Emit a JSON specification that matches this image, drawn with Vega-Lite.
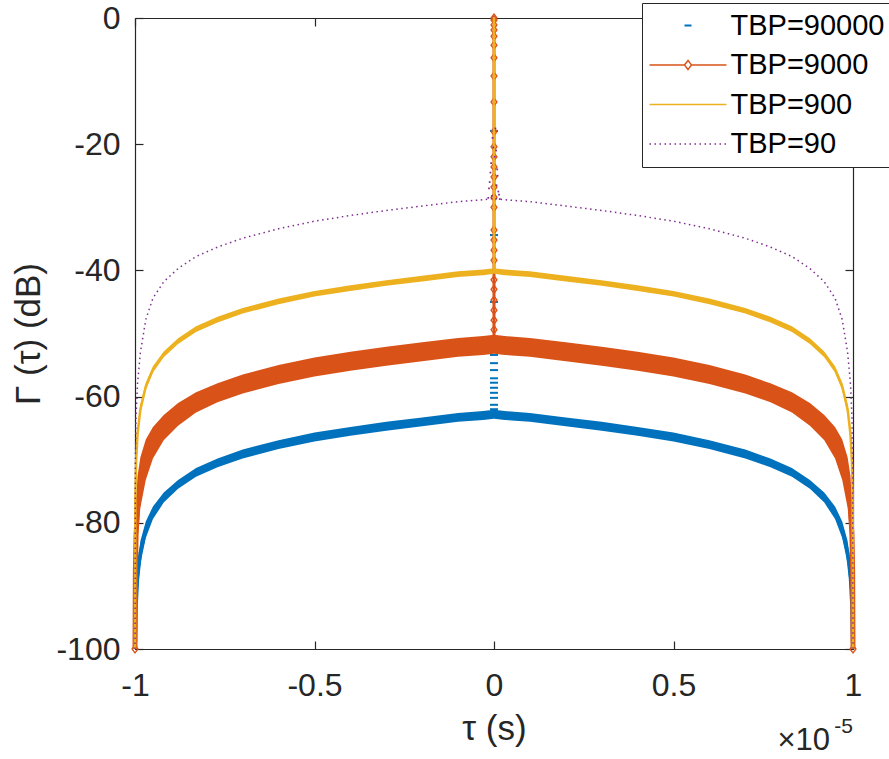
{
  "$schema": "https://vega.github.io/schema/vega-lite/v6.json",
  "width": 718,
  "height": 631,
  "autosize": {"type": "none"},
  "padding": {"left": 135, "top": 18, "right": 36, "bottom": 110},
  "background": "white",
  "config": {
    "view": {"stroke": null},
    "font": "Liberation Sans",
    "axis": {
      "domainColor": "#262626", "tickColor": "#262626", "labelColor": "#262626", "titleColor": "#262626",
      "domainWidth": 1.2, "tickWidth": 1.2, "grid": false,
      "labelFont": "Liberation Sans", "titleFont": "Liberation Sans", "titleFontWeight": "normal",
      "labelFontSize": 32, "titleFontSize": 35, "tickSize": -8, "labelFlush": false, "labelOverlap": false
    }
  },
  "datasets": {
    "curves": [
      {"series": "TBP=90000", "tau": -1, "db": -100, "lo": -100, "hi": -100},
      {"series": "TBP=90000", "tau": -0.999, "db": -98.8, "lo": -100, "hi": -97.6},
      {"series": "TBP=90000", "tau": -0.997, "db": -93.1, "lo": -96.1, "hi": -90.1},
      {"series": "TBP=90000", "tau": -0.993, "db": -88.7, "lo": -91.2, "hi": -86.2},
      {"series": "TBP=90000", "tau": -0.985, "db": -84.7, "lo": -86.5, "hi": -82.9},
      {"series": "TBP=90000", "tau": -0.97, "db": -81.1, "lo": -82.4, "hi": -79.8},
      {"series": "TBP=90000", "tau": -0.95, "db": -78.4, "lo": -79.4, "hi": -77.4},
      {"series": "TBP=90000", "tau": -0.92, "db": -76.0, "lo": -76.8, "hi": -75.2},
      {"series": "TBP=90000", "tau": -0.88, "db": -73.9, "lo": -74.6, "hi": -73.2},
      {"series": "TBP=90000", "tau": -0.83, "db": -72.0, "lo": -72.7, "hi": -71.3},
      {"series": "TBP=90000", "tau": -0.77, "db": -70.5, "lo": -71.2, "hi": -69.8},
      {"series": "TBP=90000", "tau": -0.7, "db": -69.1, "lo": -69.8, "hi": -68.4},
      {"series": "TBP=90000", "tau": -0.6, "db": -67.6, "lo": -68.3, "hi": -66.9},
      {"series": "TBP=90000", "tau": -0.5, "db": -66.4, "lo": -67.1, "hi": -65.7},
      {"series": "TBP=90000", "tau": -0.4, "db": -65.5, "lo": -66.2, "hi": -64.8},
      {"series": "TBP=90000", "tau": -0.3, "db": -64.7, "lo": -65.4, "hi": -64.0},
      {"series": "TBP=90000", "tau": -0.2, "db": -64.0, "lo": -64.7, "hi": -63.3},
      {"series": "TBP=90000", "tau": -0.1, "db": -63.3, "lo": -64.0, "hi": -62.6},
      {"series": "TBP=90000", "tau": -0.03, "db": -63.0, "lo": -63.7, "hi": -62.3},
      {"series": "TBP=90000", "tau": 0, "db": -62.8, "lo": -63.5, "hi": -62.1},
      {"series": "TBP=90000", "tau": 0.03, "db": -63.0, "lo": -63.7, "hi": -62.3},
      {"series": "TBP=90000", "tau": 0.1, "db": -63.3, "lo": -64.0, "hi": -62.6},
      {"series": "TBP=90000", "tau": 0.2, "db": -64.0, "lo": -64.7, "hi": -63.3},
      {"series": "TBP=90000", "tau": 0.3, "db": -64.7, "lo": -65.4, "hi": -64.0},
      {"series": "TBP=90000", "tau": 0.4, "db": -65.5, "lo": -66.2, "hi": -64.8},
      {"series": "TBP=90000", "tau": 0.5, "db": -66.4, "lo": -67.1, "hi": -65.7},
      {"series": "TBP=90000", "tau": 0.6, "db": -67.6, "lo": -68.3, "hi": -66.9},
      {"series": "TBP=90000", "tau": 0.7, "db": -69.1, "lo": -69.8, "hi": -68.4},
      {"series": "TBP=90000", "tau": 0.77, "db": -70.5, "lo": -71.2, "hi": -69.8},
      {"series": "TBP=90000", "tau": 0.83, "db": -72.0, "lo": -72.7, "hi": -71.3},
      {"series": "TBP=90000", "tau": 0.88, "db": -73.9, "lo": -74.6, "hi": -73.2},
      {"series": "TBP=90000", "tau": 0.92, "db": -76.0, "lo": -76.8, "hi": -75.2},
      {"series": "TBP=90000", "tau": 0.95, "db": -78.4, "lo": -79.4, "hi": -77.4},
      {"series": "TBP=90000", "tau": 0.97, "db": -81.1, "lo": -82.4, "hi": -79.8},
      {"series": "TBP=90000", "tau": 0.985, "db": -84.7, "lo": -86.5, "hi": -82.9},
      {"series": "TBP=90000", "tau": 0.993, "db": -88.7, "lo": -91.2, "hi": -86.2},
      {"series": "TBP=90000", "tau": 0.997, "db": -93.1, "lo": -96.1, "hi": -90.1},
      {"series": "TBP=90000", "tau": 0.999, "db": -98.8, "lo": -100, "hi": -97.6},
      {"series": "TBP=90000", "tau": 1, "db": -100, "lo": -100, "hi": -100},

      {"series": "TBP=9000", "tau": -1, "db": -100, "lo": -100, "hi": -100},
      {"series": "TBP=9000", "tau": -0.999, "db": -87.7, "lo": -92.7, "hi": -82.7},
      {"series": "TBP=9000", "tau": -0.997, "db": -82.0, "lo": -87.0, "hi": -77.0},
      {"series": "TBP=9000", "tau": -0.993, "db": -77.6, "lo": -82.6, "hi": -72.6},
      {"series": "TBP=9000", "tau": -0.985, "db": -73.6, "lo": -77.6, "hi": -69.6},
      {"series": "TBP=9000", "tau": -0.97, "db": -70.0, "lo": -73.2, "hi": -66.8},
      {"series": "TBP=9000", "tau": -0.95, "db": -67.3, "lo": -69.8, "hi": -64.8},
      {"series": "TBP=9000", "tau": -0.92, "db": -64.9, "lo": -66.9, "hi": -62.9},
      {"series": "TBP=9000", "tau": -0.88, "db": -62.8, "lo": -64.6, "hi": -61.0},
      {"series": "TBP=9000", "tau": -0.83, "db": -60.9, "lo": -62.5, "hi": -59.3},
      {"series": "TBP=9000", "tau": -0.77, "db": -59.4, "lo": -60.9, "hi": -57.9},
      {"series": "TBP=9000", "tau": -0.7, "db": -58.0, "lo": -59.5, "hi": -56.5},
      {"series": "TBP=9000", "tau": -0.6, "db": -56.5, "lo": -58.0, "hi": -55.0},
      {"series": "TBP=9000", "tau": -0.5, "db": -55.3, "lo": -56.8, "hi": -53.8},
      {"series": "TBP=9000", "tau": -0.4, "db": -54.4, "lo": -55.9, "hi": -52.9},
      {"series": "TBP=9000", "tau": -0.3, "db": -53.6, "lo": -55.1, "hi": -52.1},
      {"series": "TBP=9000", "tau": -0.2, "db": -52.9, "lo": -54.4, "hi": -51.4},
      {"series": "TBP=9000", "tau": -0.1, "db": -52.2, "lo": -53.7, "hi": -50.7},
      {"series": "TBP=9000", "tau": -0.03, "db": -51.9, "lo": -53.4, "hi": -50.4},
      {"series": "TBP=9000", "tau": 0, "db": -51.7, "lo": -53.2, "hi": -50.2},
      {"series": "TBP=9000", "tau": 0.03, "db": -51.9, "lo": -53.4, "hi": -50.4},
      {"series": "TBP=9000", "tau": 0.1, "db": -52.2, "lo": -53.7, "hi": -50.7},
      {"series": "TBP=9000", "tau": 0.2, "db": -52.9, "lo": -54.4, "hi": -51.4},
      {"series": "TBP=9000", "tau": 0.3, "db": -53.6, "lo": -55.1, "hi": -52.1},
      {"series": "TBP=9000", "tau": 0.4, "db": -54.4, "lo": -55.9, "hi": -52.9},
      {"series": "TBP=9000", "tau": 0.5, "db": -55.3, "lo": -56.8, "hi": -53.8},
      {"series": "TBP=9000", "tau": 0.6, "db": -56.5, "lo": -58.0, "hi": -55.0},
      {"series": "TBP=9000", "tau": 0.7, "db": -58.0, "lo": -59.5, "hi": -56.5},
      {"series": "TBP=9000", "tau": 0.77, "db": -59.4, "lo": -60.9, "hi": -57.9},
      {"series": "TBP=9000", "tau": 0.83, "db": -60.9, "lo": -62.5, "hi": -59.3},
      {"series": "TBP=9000", "tau": 0.88, "db": -62.8, "lo": -64.6, "hi": -61.0},
      {"series": "TBP=9000", "tau": 0.92, "db": -64.9, "lo": -66.9, "hi": -62.9},
      {"series": "TBP=9000", "tau": 0.95, "db": -67.3, "lo": -69.8, "hi": -64.8},
      {"series": "TBP=9000", "tau": 0.97, "db": -70.0, "lo": -73.2, "hi": -66.8},
      {"series": "TBP=9000", "tau": 0.985, "db": -73.6, "lo": -77.6, "hi": -69.6},
      {"series": "TBP=9000", "tau": 0.993, "db": -77.6, "lo": -82.6, "hi": -72.6},
      {"series": "TBP=9000", "tau": 0.997, "db": -82.0, "lo": -87.0, "hi": -77.0},
      {"series": "TBP=9000", "tau": 0.999, "db": -87.7, "lo": -92.7, "hi": -82.7},
      {"series": "TBP=9000", "tau": 1, "db": -100, "lo": -100, "hi": -100},

      {"series": "TBP=900", "tau": -1, "db": -100, "lo": -100, "hi": -100},
      {"series": "TBP=900", "tau": -0.999, "db": -76.1, "lo": -77.1, "hi": -75.1},
      {"series": "TBP=900", "tau": -0.997, "db": -70.4, "lo": -71.4, "hi": -69.4},
      {"series": "TBP=900", "tau": -0.993, "db": -66.0, "lo": -67.0, "hi": -65.0},
      {"series": "TBP=900", "tau": -0.985, "db": -62.0, "lo": -62.8, "hi": -61.2},
      {"series": "TBP=900", "tau": -0.97, "db": -58.4, "lo": -59.0, "hi": -57.8},
      {"series": "TBP=900", "tau": -0.95, "db": -55.7, "lo": -56.2, "hi": -55.2},
      {"series": "TBP=900", "tau": -0.92, "db": -53.3, "lo": -53.75, "hi": -52.85},
      {"series": "TBP=900", "tau": -0.88, "db": -51.2, "lo": -51.65, "hi": -50.75},
      {"series": "TBP=900", "tau": -0.83, "db": -49.3, "lo": -49.75, "hi": -48.85},
      {"series": "TBP=900", "tau": -0.77, "db": -47.8, "lo": -48.25, "hi": -47.35},
      {"series": "TBP=900", "tau": -0.7, "db": -46.4, "lo": -46.85, "hi": -45.95},
      {"series": "TBP=900", "tau": -0.6, "db": -44.9, "lo": -45.35, "hi": -44.45},
      {"series": "TBP=900", "tau": -0.5, "db": -43.7, "lo": -44.15, "hi": -43.25},
      {"series": "TBP=900", "tau": -0.4, "db": -42.8, "lo": -43.25, "hi": -42.35},
      {"series": "TBP=900", "tau": -0.3, "db": -42.0, "lo": -42.45, "hi": -41.55},
      {"series": "TBP=900", "tau": -0.2, "db": -41.3, "lo": -41.75, "hi": -40.85},
      {"series": "TBP=900", "tau": -0.1, "db": -40.6, "lo": -41.05, "hi": -40.15},
      {"series": "TBP=900", "tau": -0.03, "db": -40.3, "lo": -40.75, "hi": -39.85},
      {"series": "TBP=900", "tau": 0, "db": -40.1, "lo": -40.55, "hi": -39.65},
      {"series": "TBP=900", "tau": 0.03, "db": -40.3, "lo": -40.75, "hi": -39.85},
      {"series": "TBP=900", "tau": 0.1, "db": -40.6, "lo": -41.05, "hi": -40.15},
      {"series": "TBP=900", "tau": 0.2, "db": -41.3, "lo": -41.75, "hi": -40.85},
      {"series": "TBP=900", "tau": 0.3, "db": -42.0, "lo": -42.45, "hi": -41.55},
      {"series": "TBP=900", "tau": 0.4, "db": -42.8, "lo": -43.25, "hi": -42.35},
      {"series": "TBP=900", "tau": 0.5, "db": -43.7, "lo": -44.15, "hi": -43.25},
      {"series": "TBP=900", "tau": 0.6, "db": -44.9, "lo": -45.35, "hi": -44.45},
      {"series": "TBP=900", "tau": 0.7, "db": -46.4, "lo": -46.85, "hi": -45.95},
      {"series": "TBP=900", "tau": 0.77, "db": -47.8, "lo": -48.25, "hi": -47.35},
      {"series": "TBP=900", "tau": 0.83, "db": -49.3, "lo": -49.75, "hi": -48.85},
      {"series": "TBP=900", "tau": 0.88, "db": -51.2, "lo": -51.65, "hi": -50.75},
      {"series": "TBP=900", "tau": 0.92, "db": -53.3, "lo": -53.75, "hi": -52.85},
      {"series": "TBP=900", "tau": 0.95, "db": -55.7, "lo": -56.2, "hi": -55.2},
      {"series": "TBP=900", "tau": 0.97, "db": -58.4, "lo": -59.0, "hi": -57.8},
      {"series": "TBP=900", "tau": 0.985, "db": -62.0, "lo": -62.8, "hi": -61.2},
      {"series": "TBP=900", "tau": 0.993, "db": -66.0, "lo": -67.0, "hi": -65.0},
      {"series": "TBP=900", "tau": 0.997, "db": -70.4, "lo": -71.4, "hi": -69.4},
      {"series": "TBP=900", "tau": 0.999, "db": -76.1, "lo": -77.1, "hi": -75.1},
      {"series": "TBP=900", "tau": 1, "db": -100, "lo": -100, "hi": -100},

      {"series": "TBP=90", "tau": -1, "db": -100},
      {"series": "TBP=90", "tau": -0.999, "db": -70.0},
      {"series": "TBP=90", "tau": -0.997, "db": -63.0},
      {"series": "TBP=90", "tau": -0.993, "db": -58.0},
      {"series": "TBP=90", "tau": -0.985, "db": -53.0},
      {"series": "TBP=90", "tau": -0.97, "db": -47.8},
      {"series": "TBP=90", "tau": -0.95, "db": -44.4},
      {"series": "TBP=90", "tau": -0.92, "db": -41.8},
      {"series": "TBP=90", "tau": -0.88, "db": -39.7},
      {"series": "TBP=90", "tau": -0.83, "db": -37.8},
      {"series": "TBP=90", "tau": -0.77, "db": -36.3},
      {"series": "TBP=90", "tau": -0.7, "db": -34.9},
      {"series": "TBP=90", "tau": -0.6, "db": -33.4},
      {"series": "TBP=90", "tau": -0.5, "db": -32.2},
      {"series": "TBP=90", "tau": -0.4, "db": -31.3},
      {"series": "TBP=90", "tau": -0.3, "db": -30.5},
      {"series": "TBP=90", "tau": -0.2, "db": -29.8},
      {"series": "TBP=90", "tau": -0.1, "db": -29.1},
      {"series": "TBP=90", "tau": -0.03, "db": -28.8},
      {"series": "TBP=90", "tau": 0, "db": -28.6},
      {"series": "TBP=90", "tau": 0.03, "db": -28.8},
      {"series": "TBP=90", "tau": 0.1, "db": -29.1},
      {"series": "TBP=90", "tau": 0.2, "db": -29.8},
      {"series": "TBP=90", "tau": 0.3, "db": -30.5},
      {"series": "TBP=90", "tau": 0.4, "db": -31.3},
      {"series": "TBP=90", "tau": 0.5, "db": -32.2},
      {"series": "TBP=90", "tau": 0.6, "db": -33.4},
      {"series": "TBP=90", "tau": 0.7, "db": -34.9},
      {"series": "TBP=90", "tau": 0.77, "db": -36.3},
      {"series": "TBP=90", "tau": 0.83, "db": -37.8},
      {"series": "TBP=90", "tau": 0.88, "db": -39.7},
      {"series": "TBP=90", "tau": 0.92, "db": -41.8},
      {"series": "TBP=90", "tau": 0.95, "db": -44.4},
      {"series": "TBP=90", "tau": 0.97, "db": -47.8},
      {"series": "TBP=90", "tau": 0.985, "db": -53.0},
      {"series": "TBP=90", "tau": 0.993, "db": -58.0},
      {"series": "TBP=90", "tau": 0.997, "db": -63.0},
      {"series": "TBP=90", "tau": 0.999, "db": -70.0},
      {"series": "TBP=90", "tau": 1, "db": -100}
    ],
    "spikes": [
      {"series": "TBP=9000", "tau": 0, "low": -51.7, "high": 0},
      {"series": "TBP=900", "tau": 0, "low": -40.1, "high": 0}
    ],
    "bluedash": [
      {"tau": 0, "db": -17.9}, {"tau": 0, "db": -34.4}, {"tau": 0, "db": -45.0},
      {"tau": 0, "db": -53.4}, {"tau": 0, "db": -54.7}, {"tau": 0, "db": -55.8},
      {"tau": 0, "db": -57.1}, {"tau": 0, "db": -57.8}, {"tau": 0, "db": -58.6},
      {"tau": 0, "db": -59.4}, {"tau": 0, "db": -60.2}, {"tau": 0, "db": -61.3}, {"tau": 0, "db": -62.0}
    ],
    "diamonds": [
      {"tau": 0, "db": 0}, {"tau": 0, "db": -0.3}, {"tau": 0, "db": -1.1}, {"tau": 0, "db": -1.9},
      {"tau": 0, "db": -2.9}, {"tau": 0, "db": -4.3}, {"tau": 0, "db": -6.3}, {"tau": 0, "db": -9.2},
      {"tau": 0, "db": -13.3}, {"tau": 0, "db": -18.0}, {"tau": 0, "db": -20.4}, {"tau": 0, "db": -22.0},
      {"tau": 0, "db": -23.6}, {"tau": 0, "db": -25.2}, {"tau": 0, "db": -26.8}, {"tau": 0, "db": -28.4},
      {"tau": 0, "db": -30.0}, {"tau": 0, "db": -33.6}, {"tau": 0, "db": -35.2}, {"tau": 0, "db": -36.8},
      {"tau": 0, "db": -38.4}, {"tau": 0, "db": -41.5}, {"tau": 0, "db": -43.0}, {"tau": 0, "db": -44.7},
      {"tau": 0, "db": -46.3}, {"tau": 0, "db": -47.9}, {"tau": 0, "db": -49.4}, {"tau": 0, "db": -51.0},
      {"tau": -1, "db": -100}, {"tau": 1, "db": -100}
    ],
    "purpledots": [
      {"tau": -0.012, "db": -26.0}, {"tau": 0.01, "db": -25.0}, {"tau": -0.008, "db": -23.0},
      {"tau": 0.012, "db": -27.5}, {"tau": -0.014, "db": -27.0}, {"tau": 0.006, "db": -21.0},
      {"tau": -0.004, "db": -19.0}, {"tau": 0.004, "db": -17.5}, {"tau": 0.009, "db": -24.0},
      {"tau": -0.01, "db": -24.5}, {"tau": 0.014, "db": -28.0}, {"tau": -0.006, "db": -28.2},
      {"tau": 0.002, "db": -22.0}, {"tau": -0.002, "db": -20.5}, {"tau": 0.007, "db": -26.5},
      {"tau": -0.016, "db": -28.5}, {"tau": 0.016, "db": -28.7}
    ],
    "note": [{"tau": 1, "db": -100}]
  },
  "resolve": {"scale": {"x": "independent", "y": "independent"}},
  "layer": [
    {
      "layer": [
        {
          "data": {"name": "curves"},
          "transform": [{"filter": "datum.series === 'TBP=90000'"}],
          "mark": {"type": "area", "color": "#0072BD", "opacity": 1},
          "encoding": {
            "x": {"field": "tau", "type": "quantitative", "scale": {"domain": [-1, 1], "nice": false, "zero": false},
                  "axis": {"orient": "bottom", "values": [-1, -0.5, 0, 0.5, 1], "labelExpr": "datum.value + ''", "title": "τ (s)", "labelPadding": 29, "titlePadding": 10}},
            "y": {"field": "lo", "type": "quantitative", "scale": {"domain": [-100, 0], "nice": false, "zero": false},
                  "axis": {"orient": "left", "values": [-100, -80, -60, -40, -20, 0], "labelExpr": "datum.value + ''", "title": "Γ (τ) (dB)", "labelPadding": 23, "titlePadding": 9}},
            "y2": {"field": "hi"}
          }
        },
        {
          "data": {"name": "curves"},
          "transform": [{"filter": "datum.series === 'TBP=90000'"}],
          "mark": {"type": "line", "strokeWidth": 3.5, "strokeJoin": "round", "strokeCap": "butt"},
          "encoding": {
            "x": {"field": "tau", "type": "quantitative"},
            "y": {"field": "db", "type": "quantitative"},
            "color": {
              "field": "series", "type": "nominal",
              "scale": {"domain": ["TBP=90000", "TBP=9000", "TBP=900", "TBP=90"], "range": ["#0072BD", "#D95319", "#EDB120", "#7E2F8E"]},
              "legend": {
                "orient": "none", "legendX": 507, "legendY": -15, "title": null,
                "labelFontSize": 29, "labelFont": "Liberation Sans", "labelColor": "#000000", "labelLimit": 400,
                "padding": 8, "fillColor": "white", "strokeColor": "#262626",
                "symbolSize": 100, "symbolOffset": 23.5, "labelOffset": 28, "rowPadding": 9.5,
                "symbolType": "stroke", "symbolStrokeWidth": 1.5,
                "encode": {
                  "symbols": {
                    "update": {
                      "shape": {"signal": "datum.label === 'TBP=90000' ? 'M-0.7,0L0.7,0' : datum.label === 'TBP=9000' ? 'M-7.7,0L-0.7,0M0.7,0L7.7,0M0,-0.9L0.7,0L0,0.9L-0.7,0Z' : 'M-7.7,0L7.7,0'"},
                      "strokeDash": {"signal": "datum.label === 'TBP=90' ? [1.5, 3.5] : [1, 0]"},
                      "strokeWidth": {"signal": "datum.label === 'TBP=90000' ? 2 : 1.5"},
                      "fill": {"value": "transparent"}
                    }
                  }
                }
              }
            }
          }
        },
        {
          "data": {"name": "bluedash"},
          "mark": {"type": "point", "shape": "M-1,0L1,0", "size": 64, "strokeWidth": 2, "color": "#0072BD", "filled": false, "opacity": 1},
          "encoding": {"x": {"field": "tau", "type": "quantitative"}, "y": {"field": "db", "type": "quantitative"}}
        },
        {
          "data": {"name": "curves"},
          "transform": [{"filter": "datum.series === 'TBP=9000'"}],
          "mark": {"type": "area", "color": "#D95319", "opacity": 1},
          "encoding": {
            "x": {"field": "tau", "type": "quantitative"},
            "y": {"field": "lo", "type": "quantitative"},
            "y2": {"field": "hi"}
          }
        },
        {
          "data": {"name": "curves"},
          "transform": [{"filter": "datum.series === 'TBP=9000'"}],
          "mark": {"type": "line", "strokeWidth": 5, "strokeJoin": "round", "strokeCap": "butt"},
          "encoding": {
            "x": {"field": "tau", "type": "quantitative"},
            "y": {"field": "db", "type": "quantitative"},
            "color": {"field": "series", "type": "nominal"}
          }
        },
        {
          "data": {"name": "spikes"},
          "transform": [{"filter": "datum.series === 'TBP=9000'"}],
          "mark": {"type": "rule", "strokeWidth": 3, "color": "#D95319"},
          "encoding": {"x": {"field": "tau", "type": "quantitative"}, "y": {"field": "low", "type": "quantitative"}, "y2": {"field": "high"}}
        },
        {
          "data": {"name": "diamonds"},
          "mark": {"type": "point", "shape": "M0,-1L0.75,0L0,1L-0.75,0Z", "size": 64, "strokeWidth": 1.3, "color": "#D95319", "filled": false, "opacity": 1},
          "encoding": {"x": {"field": "tau", "type": "quantitative"}, "y": {"field": "db", "type": "quantitative"}}
        },
        {
          "data": {"name": "curves"},
          "transform": [{"filter": "datum.series === 'TBP=900'"}],
          "mark": {"type": "area", "color": "#EDB120", "opacity": 1},
          "encoding": {
            "x": {"field": "tau", "type": "quantitative"},
            "y": {"field": "lo", "type": "quantitative"},
            "y2": {"field": "hi"}
          }
        },
        {
          "data": {"name": "curves"},
          "transform": [{"filter": "datum.series === 'TBP=900'"}],
          "mark": {"type": "line", "strokeWidth": 2.5, "strokeJoin": "round", "strokeCap": "butt"},
          "encoding": {
            "x": {"field": "tau", "type": "quantitative"},
            "y": {"field": "db", "type": "quantitative"},
            "color": {"field": "series", "type": "nominal"}
          }
        },
        {
          "data": {"name": "spikes"},
          "transform": [{"filter": "datum.series === 'TBP=900'"}],
          "mark": {"type": "rule", "strokeWidth": 2.5, "color": "#EDB120"},
          "encoding": {"x": {"field": "tau", "type": "quantitative"}, "y": {"field": "low", "type": "quantitative"}, "y2": {"field": "high"}}
        },
        {
          "data": {"name": "curves"},
          "transform": [{"filter": "datum.series === 'TBP=90'"}],
          "mark": {"type": "line", "strokeWidth": 1.5, "strokeDash": [1.5, 3.5], "strokeJoin": "round"},
          "encoding": {
            "x": {"field": "tau", "type": "quantitative"},
            "y": {"field": "db", "type": "quantitative"},
            "color": {"field": "series", "type": "nominal"}
          }
        },
        {
          "data": {"name": "purpledots"},
          "mark": {"type": "square", "size": 3, "color": "#7E2F8E", "opacity": 1},
          "encoding": {"x": {"field": "tau", "type": "quantitative"}, "y": {"field": "db", "type": "quantitative"}}
        },
        {
          "data": {"name": "note"},
          "mark": {"type": "text", "text": "×10", "align": "right", "baseline": "alphabetic", "dx": -23, "dy": 101, "fontSize": 31, "font": "Liberation Sans", "color": "#262626"},
          "encoding": {"x": {"field": "tau", "type": "quantitative"}, "y": {"field": "db", "type": "quantitative"}}
        },
        {
          "data": {"name": "note"},
          "mark": {"type": "text", "text": "-5", "align": "right", "baseline": "alphabetic", "dx": 0, "dy": 84, "fontSize": 21, "font": "Liberation Sans", "color": "#262626"},
          "encoding": {"x": {"field": "tau", "type": "quantitative"}, "y": {"field": "db", "type": "quantitative"}}
        }
      ]
    },
    {
      "data": {"values": [{"tau": 0, "db": 0}]},
      "mark": {"type": "point", "opacity": 0},
      "encoding": {
        "x": {"field": "tau", "type": "quantitative", "scale": {"domain": [-1, 1], "nice": false, "zero": false},
              "axis": {"orient": "top", "values": [-1, -0.5, 0, 0.5, 1], "labels": false, "title": null}},
        "y": {"field": "db", "type": "quantitative", "scale": {"domain": [-100, 0], "nice": false, "zero": false},
              "axis": {"orient": "right", "values": [-100, -80, -60, -40, -20, 0], "labels": false, "title": null}}
      }
    }
  ]
}
